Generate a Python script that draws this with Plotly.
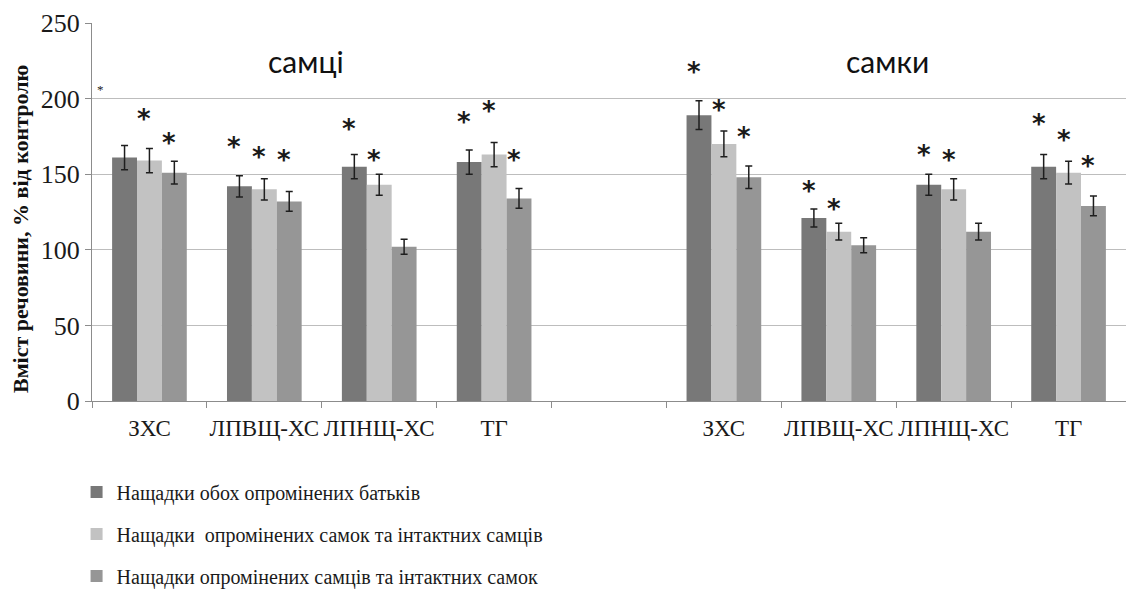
import plotly.graph_objects as go

# Category slots along the x axis (slot 4 is an empty spacer between the two panels)
slot_labels = ["ЗХС", "ЛПВЩ-ХС", "ЛПНЩ-ХС", "ТГ", "", "ЗХС", "ЛПВЩ-ХС", "ЛПНЩ-ХС", "ТГ"]
bar_slots = [0, 1, 2, 3, 5, 6, 7, 8]

series_names = [
    "Нащадки обох опромінених батьків",
    "Нащадки  опромінених самок та інтактних самців",
    "Нащадки опромінених самців та інтактних самок",
]

# Values, % of control: males (first four) then females (last four)
both_irradiated = [161, 142, 155, 158, 189, 121, 143, 155]
irradiated_females = [159, 140, 143, 163, 170, 112, 140, 151]
irradiated_males = [151, 132, 102, 134, 148, 103, 112, 129]

both_irradiated_err = [8, 7, 8, 8, 9.5, 6, 7, 8]
irradiated_females_err = [8, 7, 7, 8, 8.5, 5.5, 7, 7.5]
irradiated_males_err = [7.5, 6.5, 5, 6.5, 7.5, 5, 5.5, 6.5]

# Significance marks: (slot, series index, height in % of control)
significance = [
    (0, 1, 188), (0, 2, 172),
    (1, 0, 169), (1, 1, 162.5), (1, 2, 161),
    (2, 0, 181), (2, 1, 161),
    (3, 0, 186), (3, 1, 193), (3, 2, 161),
    (5, 0, 219), (5, 1, 194), (5, 2, 176),
    (6, 0, 140), (6, 1, 128.5),
    (7, 0, 164), (7, 1, 161),
    (8, 0, 184.5), (8, 1, 174), (8, 2, 157),
]

panel_titles = [("самці", 1.36), ("самки", 6.42)]
y_title = "Вміст речовини, % від контролю"

colors = ["#787878", "#c2c2c2", "#969696"]
values = [both_irradiated, irradiated_females, irradiated_males]
errors = [both_irradiated_err, irradiated_females_err, irradiated_males_err]

BARGAP = 0.35
n_series = len(values)
bar_w = (1 - BARGAP) / n_series

fig = go.Figure()
for k in range(n_series):
    fig.add_trace(go.Bar(
        x=bar_slots,
        y=values[k],
        name=series_names[k],
        legendgroup=f"g{k}",
        marker=dict(color=colors[k], line=dict(width=0)),
        error_y=dict(type="data", array=errors[k], visible=True,
                     color="#1e1e1e", thickness=1.5, width=3.5),
    ))

annotations = []
for slot, k, y in significance:
    annotations.append(dict(
        x=slot + (k - (n_series - 1) / 2) * bar_w, y=y, xref="x", yref="y",
        text="<b>*</b>", showarrow=False, xshift=-5, yshift=-2,
        font=dict(family="DejaVu Sans", size=26, color="#1a1a1a"),
    ))

for title, xpos in panel_titles:
    annotations.append(dict(
        x=xpos, y=225, xref="x", yref="y", text=title, showarrow=False,
        font=dict(family="Lato", size=30, color="#111111"),
    ))

# small stray mark near the top-left of the plot area
annotations.append(dict(
    x=-0.43, y=206, xref="x", yref="y", text="*", showarrow=False,
    font=dict(family="Liberation Serif", size=13, color="#222222"),
))

# vertical axis title
annotations.append(dict(
    x=-0.0696, y=0.455, xref="paper", yref="paper",
    xanchor="center", yanchor="middle", textangle=-90,
    text=f"<b>{y_title}</b>", showarrow=False,
    font=dict(family="Liberation Serif", size=22, color="#111111"),
))

fig.update_layout(
    width=1126, height=601,
    margin=dict(l=92, r=0, t=23, b=200, autoexpand=False),
    paper_bgcolor="white", plot_bgcolor="white",
    barmode="group", bargap=BARGAP, bargroupgap=0,
    font=dict(family="Liberation Serif", color="#1a1a1a"),
    annotations=annotations,
    legend=dict(
        orientation="v",
        xref="container", x=0.068, xanchor="left",
        yref="container", y=0.2137, yanchor="top",
        font=dict(family="Liberation Serif", size=20, color="#1a1a1a"),
        traceorder="grouped", tracegroupgap=13,
        bgcolor="rgba(0,0,0,0)",
    ),
    xaxis=dict(
        range=[-0.5, len(slot_labels) - 0.5],
        tickmode="array",
        tickvals=list(range(len(slot_labels))),
        ticktext=slot_labels,
        tickangle=0,
        ticks="outside", ticklen=6, tickcolor="rgba(0,0,0,0)",
        tickfont=dict(family="Liberation Serif", size=23, color="#1a1a1a"),
        showline=True, linecolor="#8c8c8c", linewidth=1,
        showgrid=False, zeroline=False,
        minor=dict(
            tickmode="array",
            tickvals=[i - 0.5 for i in range(len(slot_labels) + 1)],
            ticks="outside", ticklen=6, tickcolor="#8c8c8c", tickwidth=1,
            showgrid=False,
        ),
        fixedrange=True,
    ),
    yaxis=dict(
        range=[0, 250],
        tickmode="linear", tick0=0, dtick=50,
        ticks="outside", ticklen=6, tickcolor="#8c8c8c",
        tickfont=dict(family="Liberation Serif", size=26, color="#1a1a1a"),
        showline=True, linecolor="#8c8c8c", linewidth=1,
        showgrid=True, gridcolor="#bdbdbd", gridwidth=1,
        zeroline=False,
        fixedrange=True,
    ),
)

fig.write_html("out.html")
